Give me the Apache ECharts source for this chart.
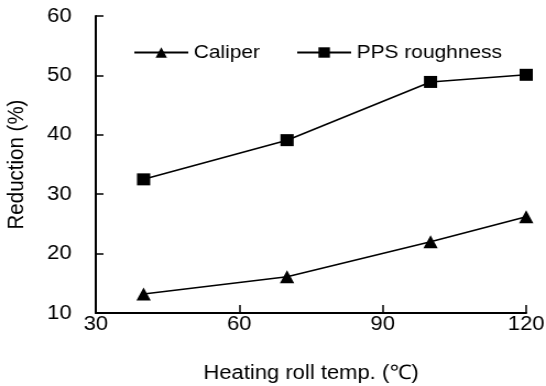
<!DOCTYPE html>
<html>
<head>
<meta charset="utf-8">
<script src="https://cdn.jsdelivr.net/npm/echarts@6/dist/echarts.min.js"></script>
<style>
html,body{margin:0;padding:0;background:#fff;overflow:hidden}
#c{width:496px;height:386px;transform:scaleX(1.1008);transform-origin:0 0}
</style>
</head>
<body>
<div id="c"></div>
<script>
const temps = [40, 70, 100, 120];
const caliper = [13.2, 16.1, 22.0, 26.2];
const ppsRoughness = [32.5, 39.1, 48.9, 50.1];
const seriesNames = ['Caliper', 'PPS roughness'];
const xTitle = 'Heating roll temp. (℃)';
const yTitle = 'Reduction (%)';

const FONT = '"Liberation Sans", Arial, sans-serif';
const chart = echarts.init(document.getElementById('c'), null, {renderer: 'canvas'});
const pair = (xs, ys) => xs.map((x, i) => [x, ys[i]]);
const legendText = {fontFamily: FONT, fontSize: 19, color: '#000'};
chart.setOption({
  animation: false,
  backgroundColor: '#fff',
  grid: {left: 87, right: 18, top: 16, bottom: 73, containLabel: false, outerBoundsMode: 'none'},
  legend: [
    {data: [seriesNames[0]], left: 121, top: 43, padding: 0, itemWidth: 49, itemHeight: 13, itemGap: 0, textStyle: legendText},
    {data: [seriesNames[1]], left: 269, top: 43, padding: 0, itemWidth: 49, itemHeight: 13, itemGap: 0, textStyle: legendText}
  ],
  xAxis: {
    type: 'value', min: 30, max: 120, interval: 30,
    name: xTitle, nameLocation: 'middle', nameGap: 50,
    nameTextStyle: {fontFamily: FONT, fontSize: 20, color: '#000'},
    axisLine: {show: true, lineStyle: {color: '#000', width: 2}},
    axisTick: {show: true, inside: true, length: 8, lineStyle: {color: '#000', width: 1.5}},
    axisLabel: {margin: 1, fontFamily: FONT, fontSize: 20, color: '#000'},
    splitLine: {show: false}
  },
  yAxis: {
    type: 'value', min: 10, max: 60, interval: 10,
    name: yTitle, nameLocation: 'middle', nameGap: 61, nameRotate: 90,
    nameTextStyle: {fontFamily: FONT, fontSize: 20.5, color: '#000'},
    axisLine: {show: true, lineStyle: {color: '#000', width: 2}},
    axisTick: {show: true, inside: true, length: 7, lineStyle: {color: '#000', width: 1.5}},
    axisLabel: {margin: 22, fontFamily: FONT, fontSize: 20, color: '#000'},
    splitLine: {show: false}
  },
  series: [
    {name: seriesNames[0], type: 'line', data: pair(temps, caliper),
     symbol: 'triangle', symbolSize: [13, 13], showAllSymbol: true,
     lineStyle: {color: '#000', width: 1.6}, itemStyle: {color: '#000'}},
    {name: seriesNames[1], type: 'line', data: pair(temps, ppsRoughness),
     symbol: 'rect', symbolSize: [12, 12], showAllSymbol: true,
     lineStyle: {color: '#000', width: 1.6}, itemStyle: {color: '#000'}}
  ]
});
</script>
</body>
</html>
